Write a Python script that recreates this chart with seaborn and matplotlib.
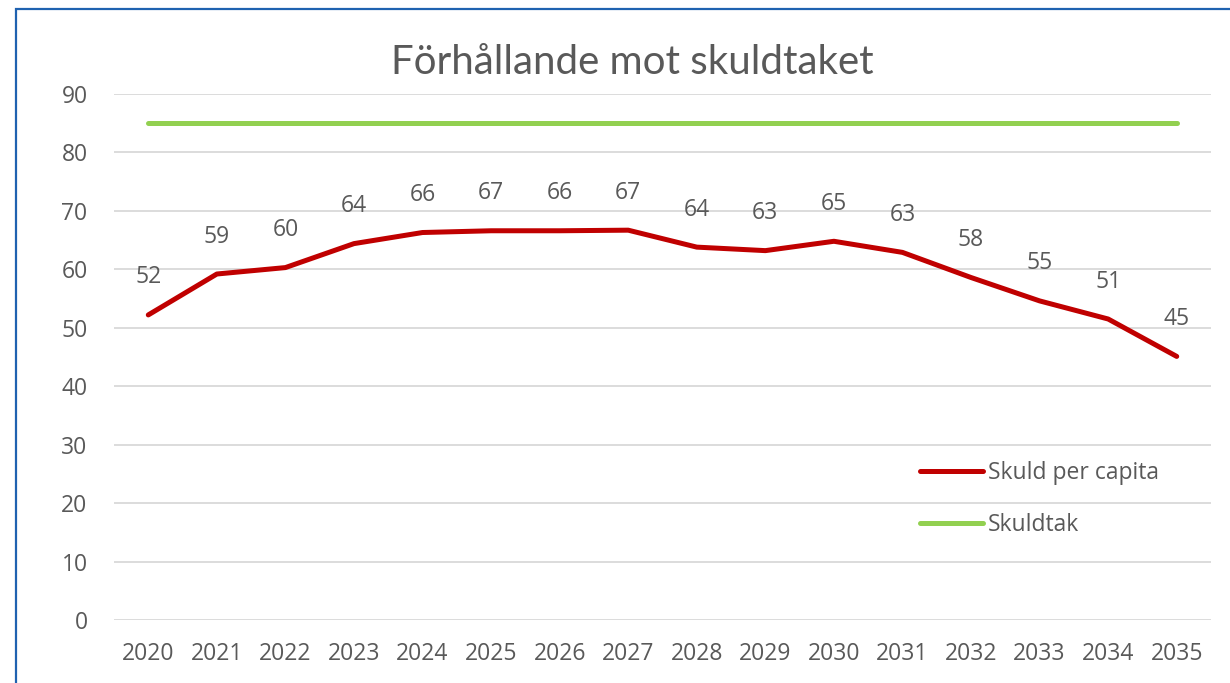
import matplotlib
matplotlib.use("Agg")
import matplotlib.pyplot as plt
import seaborn as sns
import pandas as pd
from matplotlib.patches import Rectangle

years = list(range(2020, 2036))
skuld_per_capita = [52.2, 59.2, 60.3, 64.4, 66.3, 66.6, 66.6, 66.7, 63.8, 63.2, 64.8, 62.9, 58.6, 54.6, 51.5, 45.1]
point_labels = [52, 59, 60, 64, 66, 67, 66, 67, 64, 63, 65, 63, 58, 55, 51, 45]
skuldtak = [85] * 16
title = "Förhållande mot skuldtaket"
series_names = ["Skuld per capita", "Skuldtak"]

sns.set_theme(style="white")
plt.rcParams['font.family'] = ['Open Sans', 'DejaVu Sans']

df = pd.DataFrame({
    "year": years * 2,
    "value": skuld_per_capita + skuldtak,
    "series": [series_names[0]] * 16 + [series_names[1]] * 16,
})

fig = plt.figure(figsize=(12.3, 6.83), dpi=100)
ax = fig.add_axes([114 / 1230, 1 - 620 / 683, (1211 - 114) / 1230, (620 - 94) / 683])

sns.lineplot(data=df, x="year", y="value", hue="series",
             palette={series_names[0]: "#c00000", series_names[1]: "#92d050"},
             linewidth=3.6, ax=ax, solid_capstyle="round", legend=True)

txt_color = "#595959"
fs = 16.5
for x, y, lab in zip(years, skuld_per_capita, point_labels):
    ax.annotate(str(lab), (x, y), xytext=(0, 27), textcoords="offset points",
                ha="center", va="center", fontsize=fs, color=txt_color)

ax.set_xlim(2019.5, 2035.5)
ax.set_ylim(0, 90)
ax.set_yticks(range(0, 91, 10))
ax.set_xticks(years)
ax.set_xticklabels([str(y) for y in years])
ax.grid(axis="y", color="#d9d9d9", linewidth=1.3)
ax.grid(axis="x", visible=False)
ax.set_axisbelow(True)
for s in ax.spines.values():
    s.set_visible(False)
ax.tick_params(axis="both", length=0, labelsize=fs, labelcolor=txt_color)
ax.tick_params(axis="y", pad=19)
ax.tick_params(axis="x", pad=16)
ax.set_xlabel("")
ax.set_ylabel("")

leg = ax.legend(loc="center left", bbox_to_anchor=(920 / 1230, 1 - 499 / 683),
                bbox_transform=fig.transFigure, frameon=False, borderpad=0,
                borderaxespad=0, handlelength=2.75, handletextpad=0.2,
                labelspacing=1.2, fontsize=fs)
for t in leg.get_texts():
    t.set_color(txt_color)
for l in leg.get_lines():
    l.set_linewidth(3.6)

fig.text(632 / 1230, 1 - 62 / 683, title, ha="center", va="center",
         fontsize=29, color=txt_color, family=["Lato", "DejaVu Sans"])

fig.patches.append(Rectangle((16 / 1230, -0.1), 1.2, 1.1 - 9 / 683 + 0.0,
                             transform=fig.transFigure, fill=False,
                             edgecolor="#1f62b0", linewidth=1.6))

fig.savefig("out.png", dpi=100)
